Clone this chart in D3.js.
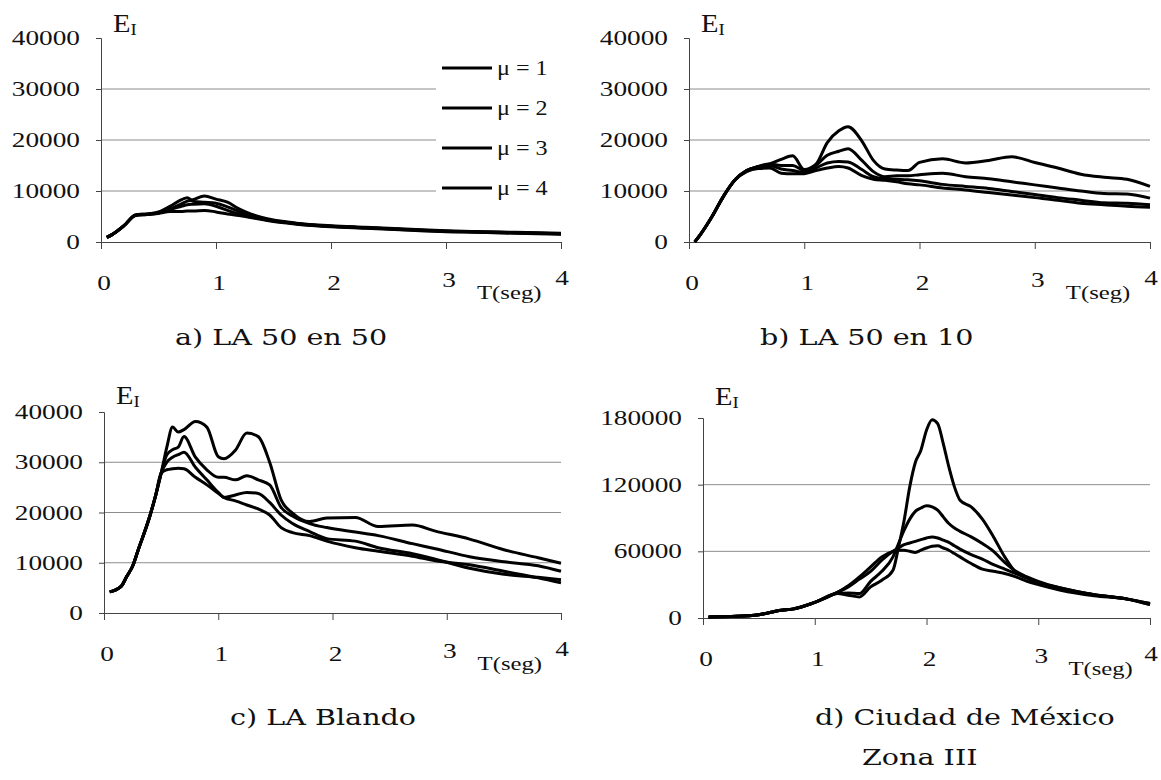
<!DOCTYPE html>
<html>
<head>
<meta charset="utf-8">
<script src="https://cdn.jsdelivr.net/npm/d3@7"></script>
<style>
  body { margin: 0; background: #fff; }
  svg { display: block; }
</style>
</head>
<body>
<div id="chart"></div>
<script>
// ---------- data ----------
const legendLabels = ["μ = 1", "μ = 2", "μ = 3", "μ = 4"];
const xTicks = [0, 1, 2, 3, 4];
const yTicksLA = [0, 10000, 20000, 30000, 40000];
const yTicksMex = [0, 60000, 120000, 180000];

// a) LA 50 en 50
const tA = [0.05, 0.1, 0.2, 0.3, 0.4, 0.5, 0.6, 0.7, 0.75, 0.8, 0.9, 1.0, 1.1, 1.2, 1.3, 1.4, 1.5, 1.7, 2.0, 2.3, 2.6, 3.0, 3.3, 3.6, 4.0];
const aMu1 = [900, 1500, 3200, 5300, 5500, 5800, 6500, 7500, 8000, 8300, 9000, 8400, 7800, 6500, 5500, 4800, 4300, 3700, 3200, 2900, 2600, 2200, 2000, 1900, 1700];
const aMu2 = [900, 1500, 3200, 5300, 5500, 5900, 7000, 8300, 8700, 8000, 7800, 7600, 6900, 6000, 5200, 4600, 4200, 3600, 3100, 2800, 2500, 2100, 2000, 1800, 1600];
const aMu3 = [900, 1500, 3200, 5200, 5400, 5700, 6400, 7000, 7300, 7400, 7500, 7000, 6200, 5500, 5000, 4500, 4100, 3600, 3100, 2800, 2500, 2100, 1900, 1800, 1600];
const aMu4 = [900, 1500, 3200, 5200, 5400, 5600, 6000, 6000, 6100, 6100, 6200, 5900, 5500, 5200, 4800, 4400, 4000, 3500, 3000, 2700, 2400, 2000, 1900, 1700, 1500];

// b) LA 50 en 10
const tB = [0.05, 0.1, 0.2, 0.3, 0.4, 0.5, 0.6, 0.7, 0.8, 0.9, 1.0, 1.1, 1.2, 1.3, 1.38, 1.5, 1.6, 1.7, 1.8, 1.9, 2.0, 2.2, 2.4, 2.6, 2.8, 3.0, 3.2, 3.4, 3.6, 3.8, 4.0];
const bMu1 = [0, 1500, 5000, 9000, 12200, 14000, 14800, 15300, 16200, 16900, 14200, 15200, 19500, 21800, 22600, 19800, 16000, 14300, 14100, 14000, 15600, 16300, 15500, 16000, 16700, 15600, 14500, 13300, 12700, 12300, 10900];
const bMu2 = [0, 1500, 5000, 9000, 12200, 14000, 14800, 15300, 15000, 15000, 14000, 15000, 17000, 17800, 18300, 16000, 13800, 12800, 13000, 13000, 13200, 13500, 12800, 12400, 11800, 11200, 10600, 10000, 9500, 9400, 8600];
const bMu3 = [0, 1500, 5000, 9000, 12200, 14000, 14700, 15000, 14300, 14000, 13600, 14500, 15500, 15800, 15700, 14200, 12800, 12400, 12300, 12200, 12000, 11300, 10900, 10500, 9900, 9300, 8700, 8200, 7700, 7600, 7300];
const bMu4 = [0, 1500, 5000, 9000, 12200, 13800, 14400, 14500, 13500, 13400, 13400, 14000, 14500, 14800, 14500, 13000, 12300, 12100, 11800, 11400, 11200, 10600, 10200, 9700, 9200, 8700, 8200, 7600, 7300, 7000, 6800];

// c) LA Blando
const tC = [0.05, 0.15, 0.2, 0.25, 0.3, 0.4, 0.45, 0.5, 0.55, 0.6, 0.65, 0.7, 0.8, 0.9, 1.0, 1.05, 1.15, 1.25, 1.35, 1.45, 1.55, 1.65, 1.8, 1.95, 2.2, 2.4, 2.7, 2.9, 3.2, 3.5, 3.8, 4.0];
const cMu1 = [4200, 5300, 7300, 9300, 12600, 19200, 23200, 27800, 33000, 37000, 36000, 36500, 38100, 37000, 31100, 30700, 32400, 35800, 35100, 30000, 22500, 19900, 18200, 18900, 19000, 17200, 17500, 16300, 14700, 12600, 11000, 9900];
const cMu2 = [4200, 5300, 7300, 9300, 12600, 19200, 23200, 27800, 31500, 32500, 33000, 35100, 31000, 28500, 27000, 27000, 26500, 27300, 26500, 25500, 21000, 19300, 17800, 17000, 16100, 15400, 13800, 12800, 11200, 10200, 9400, 8300];
const cMu3 = [4200, 5300, 7300, 9300, 12600, 19200, 23200, 27800, 30000, 31000, 31500, 32000, 29000, 26500, 24000, 23000, 23500, 24000, 23800, 22000, 19500, 17800, 16200, 14800, 14300, 13000, 11800, 10700, 8900, 7700, 7100, 6600];
const cMu4 = [4200, 5300, 7300, 9300, 12600, 19200, 23200, 27800, 28500, 28700, 28800, 28700, 27000, 25500, 23800, 23000, 22300, 21500, 20700, 19500, 17000, 16000, 15400, 14300, 13000, 12300, 11300, 10400, 9600, 8300, 7000, 6000];

// d) Ciudad de México, Zona III
const tD = [0.05, 0.3, 0.5, 0.7, 0.8, 1.0, 1.2, 1.3, 1.4, 1.5, 1.6, 1.7, 1.75, 1.8, 1.85, 1.9, 1.95, 2.0, 2.05, 2.1, 2.15, 2.2, 2.25, 2.3, 2.4, 2.5, 2.6, 2.7, 2.8, 2.9, 3.0, 3.2, 3.5, 3.8, 4.0];
const dMu1 = [1000, 1500, 3000, 7000, 8000, 14000, 22000, 20500, 19000, 28000, 34000, 43000, 64000, 88000, 118000, 140000, 151000, 169000, 178500, 175000, 157000, 136000, 118000, 106000, 100000, 89000, 73000, 55000, 41000, 36000, 31000, 26000, 21000, 17000, 13000];
const dMu2 = [1000, 1500, 3000, 7000, 8000, 14000, 22000, 22500, 22000, 33000, 42000, 55000, 67000, 79000, 89000, 96000, 99000, 101000, 100000, 97000, 91000, 85000, 81000, 78000, 73000, 67000, 60000, 50000, 42000, 37000, 33000, 27000, 21000, 17000, 13000];
const dMu3 = [1000, 1500, 3000, 7000, 8000, 14000, 23000, 28000, 35000, 42000, 52000, 60000, 63000, 66000, 67500, 69000, 70500, 72000, 73000, 72000, 70000, 68000, 65000, 62000, 57000, 53000, 48000, 44000, 40000, 36000, 32000, 27000, 21000, 17000, 12000];
const dMu4 = [1000, 1500, 3000, 7000, 8000, 14000, 23000, 29000, 37000, 46000, 55000, 60000, 61000, 61000, 60000, 59000, 61000, 63000, 64500, 65000, 63000, 61000, 58000, 55000, 49000, 44000, 42000, 40000, 37000, 33000, 30000, 25000, 20000, 17000, 12000];

// ---------- layout of the four panels ----------
const panels = [
  { t: tA, series: [aMu1, aMu2, aMu3, aMu4], yMax: 40000, yTicks: yTicksLA,
    left: 101, right: 561, top: 38, bottom: 242, gridRight: 436, legend: true, eY: 32,
    caption: ["a) LA 50 en 50"], capX: 175, capY: 345 },
  { t: tB, series: [bMu1, bMu2, bMu3, bMu4], yMax: 40000, yTicks: yTicksLA,
    left: 689, right: 1150, top: 38, bottom: 242, gridRight: 1150, legend: false, eY: 32,
    caption: ["b) LA 50 en 10"], capX: 760, capY: 345 },
  { t: tC, series: [cMu1, cMu2, cMu3, cMu4], yMax: 40000, yTicks: yTicksLA,
    left: 104, right: 561, top: 412, bottom: 613, gridRight: 561, legend: false, eY: 404,
    caption: ["c) LA Blando"], capX: 230, capY: 725 },
  { t: tD, series: [dMu1, dMu2, dMu3, dMu4], yMax: 180000, yTicks: yTicksMex,
    left: 703, right: 1150, top: 418, bottom: 618, gridRight: 1150, legend: false, eY: 405,
    caption: ["d) Ciudad de México", "Zona III"], capX: 815, capY: 725 }
];

const width = 1161;
const height = 780;
const serif = "'Liberation Serif', 'Times New Roman', serif";

const svg = d3
  .select("#chart")
  .append("svg")
  .attr("width", width)
  .attr("height", height)
  .style("background", "#fff");

// horizontally stretched text, like the scanned figure
function label(g, x, y, txt, size, anchor, sx, family) {
  return g
    .append("text")
    .attr("transform", `translate(${x},${y}) scale(${sx},1)`)
    .attr("text-anchor", anchor || "start")
    .style("font-family", family || serif)
    .style("font-size", size + "px")
    .style("fill", "#111")
    .text(txt);
}

panels.forEach((p) => {
  const g = svg.append("g");

  const x = d3.scaleLinear().domain([0, 4]).range([p.left, p.right]);
  const y = d3.scaleLinear().domain([0, p.yMax]).range([p.bottom, p.top]);

  // gridlines
  g.selectAll(".grid")
    .data(p.yTicks.filter((d) => d > 0 && d < p.yMax))
    .enter()
    .append("line")
    .attr("x1", p.left)
    .attr("x2", p.gridRight)
    .attr("y1", (d) => y(d))
    .attr("y2", (d) => y(d))
    .style("stroke", "#8c8c8c")
    .style("stroke-width", 1);

  // y axis
  g.append("g")
    .attr("transform", `translate(${p.left},0)`)
    .call(d3.axisLeft(y).tickValues(p.yTicks).tickSize(5).tickFormat(""))
    .call((a) => a.selectAll("path, line").style("stroke", "#444"));

  // x axis
  g.append("g")
    .attr("transform", `translate(0,${p.bottom})`)
    .call(d3.axisBottom(x).tickValues(xTicks).tickSize(7).tickSizeOuter(0).tickFormat(""))
    .call((a) => a.selectAll("path, line").style("stroke", "#444"));

  // y tick labels
  p.yTicks.forEach((v) => {
    label(g, p.left - 21, y(v) + 7, String(v), 21, "end", 1.3);
  });

  // x tick labels ("3" and "4" sit a little higher in the figure)
  xTicks.forEach((v) => {
    const lift = v === 4 ? 5 : v === 3 ? 3 : 0;
    const dx = v === 4 ? 1 : 3;
    label(g, x(v) + dx, p.bottom + 48 - lift, String(v), 21, "middle", 1.3);
  });
  label(g, x(3.27), p.bottom + 57, "T(seg)", 19, "start", 1.3);

  // E_I label
  const eLabel = g
    .append("text")
    .attr("transform", `translate(${p.left + 12},${p.eY}) scale(1.1,1)`)
    .style("font-family", serif)
    .style("font-size", "26px")
    .style("fill", "#111");
  eLabel.append("tspan").text("E");
  eLabel.append("tspan").attr("dy", 3).style("font-size", "17px").text("I");

  // curves
  const line = d3
    .line()
    .x((d) => x(d[0]))
    .y((d) => y(d[1]))
    .curve(d3.curveMonotoneX);

  p.series.forEach((s) => {
    g.append("path")
      .datum(p.t.map((t, i) => [t, s[i]]))
      .attr("d", line)
      .style("fill", "none")
      .style("stroke", "#000")
      .style("stroke-width", 3)
      .style("stroke-linejoin", "round");
  });

  // legend (panel a only)
  if (p.legend) {
    legendLabels.forEach((lab, i) => {
      const ly = 68 + i * 40;
      g.append("line")
        .attr("x1", 442)
        .attr("x2", 492)
        .attr("y1", ly)
        .attr("y2", ly)
        .style("stroke", "#000")
        .style("stroke-width", 3.2);
      label(g, 497, ly + 7, lab, 21, "start", 1.15);
    });
  }

  // caption
  p.caption.forEach((c, i) => {
    label(g, p.capX + i * 47, p.capY + i * 40, c, 22, "start", 1.3, "'DejaVu Serif', serif");
  });
});
</script>
</body>
</html>
